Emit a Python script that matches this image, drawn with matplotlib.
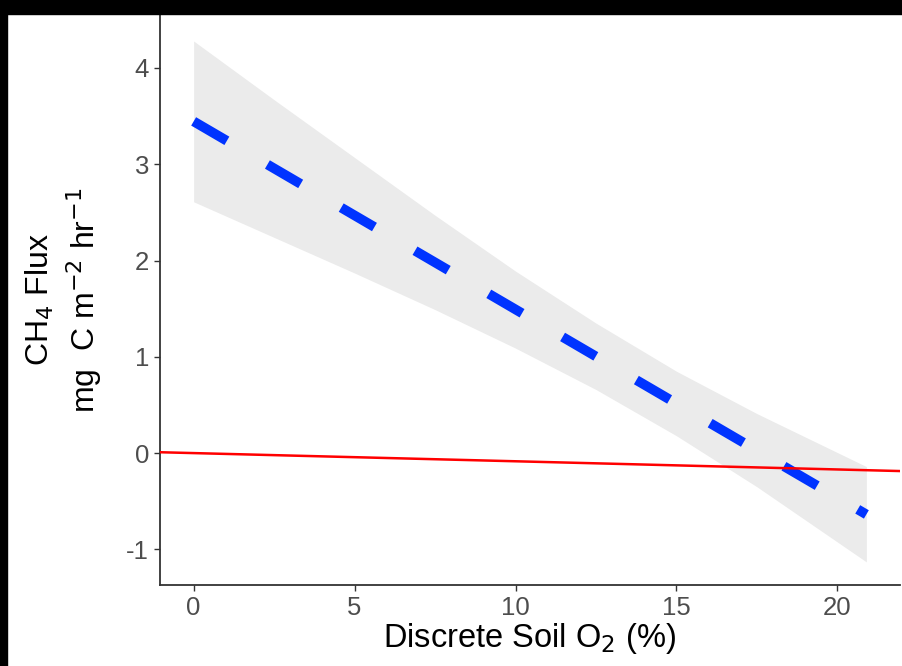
import matplotlib.pyplot as plt
from matplotlib.patches import Rectangle

# fitted line (lm) and its confidence band
o2_fit = [0, 20.9]
ch4_fit = [3.445, -0.637]

o2_band = [0, 2.5, 5, 7.5, 10, 12.5, 15, 17.5, 20.9]
band_hi = [4.28, 3.67, 3.07, 2.47, 1.89, 1.35, 0.85, 0.41, -0.14]
band_lo = [2.61, 2.24, 1.87, 1.49, 1.09, 0.66, 0.18, -0.35, -1.13]

# red reference line
ref_point = (0, 0)
ref_slope = -0.0085

xticks = [0, 5, 10, 15, 20]
yticks = [-1, 0, 1, 2, 3, 4]

plt.rcParams['font.family'] = ['Liberation Sans', 'DejaVu Sans']
plt.rcParams['axes.unicode_minus'] = False

fig = plt.figure(figsize=(9.02, 6.66), dpi=100)
ax = fig.add_axes([160 / 902, 81 / 666, 740 / 902, 570 / 666])

ax.fill_between(o2_band, band_lo, band_hi, color='#EBEBEB', lw=0, zorder=1)
ax.plot(o2_fit, ch4_fit, color='#0033FF', lw=7, dashes=(3.96, 4.83),
        solid_capstyle='butt', dash_capstyle='butt', zorder=2)
ax.axline(ref_point, slope=ref_slope, color='#FF0000', lw=1.8, zorder=3)

ax.set_xlim(-1.045, 21.945)
ax.set_ylim(-1.37, 4.55)
ax.set_xticks(xticks)
ax.set_yticks(yticks)

for side in ['top', 'right']:
    ax.spines[side].set_visible(False)
for side in ['left', 'bottom']:
    ax.spines[side].set_color('#333333')
    ax.spines[side].set_linewidth(1.3)

ax.tick_params(direction='out', length=4, width=1.0, color='#333333',
               labelsize=18.5, labelcolor='#4D4D4D', pad=4)

ax.set_xlabel('Discrete Soil O$_2$ (%)', fontsize=23.5, color='black', labelpad=1)
ax.set_ylabel('CH$_4$ Flux\nmg  C m$^{-2}$ hr$^{-1}$', fontsize=23,
              color='black', labelpad=16, linespacing=1.25)

# black border strips at top and left of the screenshot
fig.patches.append(Rectangle((0, (666 - 14) / 666), 1, 14 / 666,
                             transform=fig.transFigure, color='black', zorder=10))
fig.patches.append(Rectangle((0, 0), 7 / 902, 1,
                             transform=fig.transFigure, color='black', zorder=10))

fig.savefig('out.png', dpi=100)
